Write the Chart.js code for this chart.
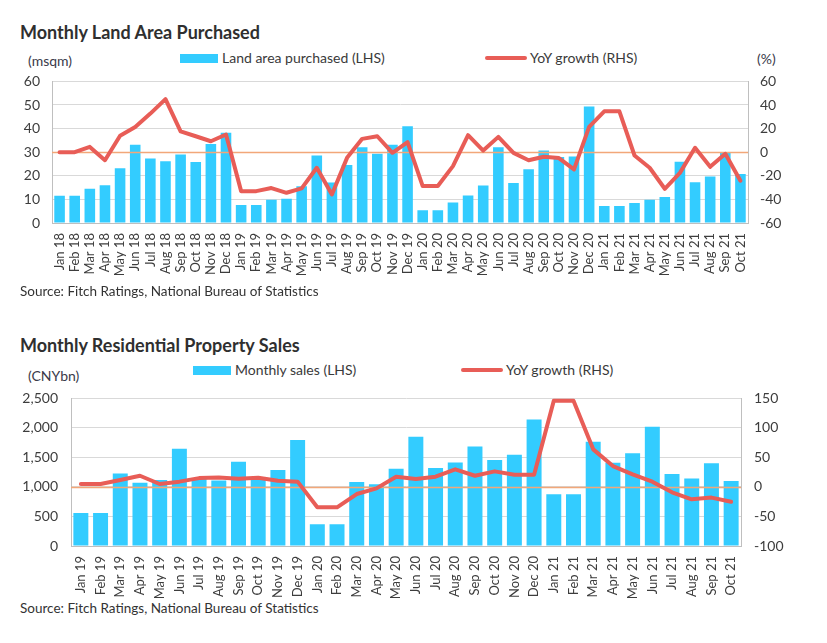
<!DOCTYPE html>
<html>
<head>
<meta charset="utf-8">
<script src="https://cdn.jsdelivr.net/npm/chart.js@4.4.1/dist/chart.umd.min.js"></script>
<style>
  html, body { margin: 0; padding: 0; background: #ffffff; }
  body { width: 827px; height: 643px; position: relative; overflow: hidden; font-family: Lato, "Open Sans", sans-serif; color: #333333; }
  .abs { position: absolute; white-space: nowrap; line-height: 1; }
  .title { font-weight: bold; font-size: 18px; color: #2f2f2f; }
  .src { font-size: 13.5px; color: #333333; }
  .unit { font-size: 14px; color: #3a3a4a; }
  .leg { font-size: 14px; color: #3a3a3a; display: flex; align-items: center; }
  .box { display: inline-block; width: 38px; height: 9px; background: #33CCFF; margin-right: 4px; }
  .ln { display: inline-block; width: 42px; height: 4px; background: #E85D57; border-radius: 2px; margin-right: 3px; }
  canvas { position: absolute; left: 0; }
</style>
</head>
<body>
<div class="abs title" style="left:20px; top:23px;">Monthly Land Area Purchased</div>
<div class="abs unit" style="left:28px; top:54px;">(msqm)</div>
<div class="abs unit" style="left:757px; top:52px;">(%)</div>
<div class="abs leg" style="left:180px; top:51px;"><span class="box"></span>Land area purchased (LHS)</div>
<div class="abs leg" style="left:485px; top:51px;"><span class="ln"></span>YoY growth (RHS)</div>
<canvas id="c1" width="827" height="224" style="top:61px;"></canvas>
<div class="abs src" style="left:20px; top:285px;">Source: Fitch Ratings, National Bureau of Statistics</div>

<div class="abs title" style="left:20px; top:336px;">Monthly Residential Property Sales</div>
<div class="abs unit" style="left:28px; top:369px;">(CNYbn)</div>
<div class="abs leg" style="left:193px; top:363px;"><span class="box"></span>Monthly sales (LHS)</div>
<div class="abs leg" style="left:461px; top:363px;"><span class="ln"></span>YoY growth (RHS)</div>
<canvas id="c2" width="827" height="223" style="top:377px;"></canvas>
<div class="abs src" style="left:20px; top:602px;">Source: Fitch Ratings, National Bureau of Statistics</div>

<script>
// ---------- Data: chart 1 (land area purchased) ----------
const landMonths = [
  "Jan 18","Feb 18","Mar 18","Apr 18","May 18","Jun 18","Jul 18","Aug 18","Sep 18","Oct 18","Nov 18","Dec 18",
  "Jan 19","Feb 19","Mar 19","Apr 19","May 19","Jun 19","Jul 19","Aug 19","Sep 19","Oct 19","Nov 19","Dec 19",
  "Jan 20","Feb 20","Mar 20","Apr 20","May 20","Jun 20","Jul 20","Aug 20","Sep 20","Oct 20","Nov 20","Dec 20",
  "Jan 21","Feb 21","Mar 21","Apr 21","May 21","Jun 21","Jul 21","Aug 21","Sep 21","Oct 21"
];
const landArea = [
  11.5, 11.5, 14.5, 16.0, 23.2, 33.2, 27.3, 26.2, 29.0, 25.8, 33.5, 38.2,
  7.6, 7.6, 9.9, 10.3, 15.6, 28.6, 17.2, 24.6, 32.1, 29.3, 33.2, 41.0,
  5.4, 5.4, 8.7, 11.7, 15.9, 32.1, 16.9, 22.8, 30.7, 28.0, 28.2, 49.4,
  7.2, 7.2, 8.5, 9.9, 11.0, 26.0, 17.3, 19.7, 29.9, 20.8
];
const landYoY = [
  0, 0, 4.5, -6.8, 14.0, 21.4, 32.7, 45.0, 17.7, 13.5, 9.3, 15.0,
  -33.0, -33.0, -30.4, -34.4, -30.7, -13.2, -35.8, -4.8, 11.3, 13.5, -0.5, 8.5,
  -28.7, -28.7, -11.8, 14.4, 1.4, 13.0, -0.6, -6.8, -3.9, -5.0, -14.6, 21.4,
  34.6, 34.6, -2.8, -13.2, -31.0, -17.5, 3.7, -12.4, -1.4, -24.2
];
const landLeftTicks = { min: 0, max: 60, step: 10 };
const landRightTicks = { min: -60, max: 60, step: 20 };

// ---------- Data: chart 2 (residential property sales) ----------
const salesMonths = [
  "Jan 19","Feb 19","Mar 19","Apr 19","May 19","Jun 19","Jul 19","Aug 19","Sep 19","Oct 19","Nov 19","Dec 19",
  "Jan 20","Feb 20","Mar 20","Apr 20","May 20","Jun 20","Jul 20","Aug 20","Sep 20","Oct 20","Nov 20","Dec 20",
  "Jan 21","Feb 21","Mar 21","Apr 21","May 21","Jun 21","Jul 21","Aug 21","Sep 21","Oct 21"
];
const monthlySales = [
  559, 559, 1230, 1072, 1117, 1648, 1150, 1110, 1428, 1150, 1287, 1795,
  367, 367, 1084, 1044, 1309, 1851, 1320, 1416, 1687, 1456, 1546, 2144,
  875, 875, 1766, 1411, 1569, 2020, 1219, 1145, 1400, 1100
];
const salesYoY = [
  5, 5, 11.7, 19, 5, 9, 15, 16, 14, 15.7, 10.6, 9,
  -34.5, -34.5, -12, -2.4, 17.4, 13.4, 17.4, 29.8, 19, 26.4, 20.8, 20.8,
  146, 146, 63.7, 35.4, 21.3, 8.9, -9.1, -21, -18, -25
];
const salesLeftTicks = { min: 0, max: 2500, step: 500 };
const salesRightTicks = { min: -100, max: 150, step: 50 };

// ---------- Styles ----------
const BAR_COLOR = '#33CCFF';
const LINE_COLOR = '#E85D57';
const ZERO_COLOR = '#F2A779';
const GRID_COLOR = '#D9D9D9';
const AXIS_COLOR = '#BFBFBF';
const TICK_COLOR = '#3d3d3d';

const zeroLinePlugin = {
  id: 'zeroLine',
  beforeDatasetDraw(chart, args) {
    if (chart.data.datasets[args.index].type !== 'line') return;
    const y1 = chart.scales.y1;
    const area = chart.chartArea;
    const y = Math.round(y1.getPixelForValue(0)) + 0.5;
    const ctx = chart.ctx;
    ctx.save();
    ctx.strokeStyle = ZERO_COLOR;
    ctx.lineWidth = 1.5;
    ctx.beginPath();
    ctx.moveTo(area.left, y);
    ctx.lineTo(area.right, y);
    ctx.stroke();
    ctx.restore();
  }
};

function makeChart(id, cfg) {
  const fmt = v => v.toLocaleString('en-US');
  return new Chart(document.getElementById(id), {
    data: {
      labels: cfg.labels,
      datasets: [
        {
          type: 'bar', label: cfg.barLabel, data: cfg.bars, yAxisID: 'y', order: 2,
          backgroundColor: BAR_COLOR, borderWidth: 0,
          barPercentage: cfg.barPct, categoryPercentage: 1.0
        },
        {
          type: 'line', label: 'YoY growth (RHS)', data: cfg.line, yAxisID: 'y1', order: 1,
          borderColor: LINE_COLOR, backgroundColor: LINE_COLOR, borderWidth: 4,
          pointRadius: 0, tension: 0, borderJoinStyle: 'round', borderCapStyle: 'round', clip: false
        }
      ]
    },
    options: {
      responsive: false,
      animation: false,
      devicePixelRatio: 1,
      layout: { padding: { top: 0, left: 0, right: 0, bottom: 0 } },
      plugins: { legend: { display: false }, tooltip: { enabled: false } },
      scales: {
        x: {
          offset: true,
          grid: { display: false, drawTicks: false },
          border: { display: true, color: AXIS_COLOR, width: 1 },
          ticks: { autoSkip: false, maxRotation: 90, minRotation: 90, padding: 10, color: TICK_COLOR,
                   font: { family: 'Lato', size: 13 } },
          afterFit: s => { s.height = cfg.xHeight; }
        },
        y: {
          position: 'left', min: cfg.left.min, max: cfg.left.max,
          grid: { color: GRID_COLOR, drawTicks: false },
          border: { display: true, color: AXIS_COLOR },
          ticks: { stepSize: cfg.left.step, padding: cfg.tickPad, color: TICK_COLOR,
                   font: { family: 'Lato', size: 14 }, callback: fmt },
          afterFit: s => { s.width = cfg.leftW; }
        },
        y1: {
          position: 'right', min: cfg.right.min, max: cfg.right.max,
          grid: { display: false, drawTicks: false },
          border: { display: true, color: AXIS_COLOR },
          ticks: { stepSize: cfg.right.step, padding: cfg.tickPad, color: TICK_COLOR,
                   font: { family: 'Lato', size: 14 }, callback: fmt },
          afterFit: s => { s.width = cfg.rightW; }
        }
      }
    },
    plugins: [zeroLinePlugin]
  });
}

makeChart('c1', {
  labels: landMonths, bars: landArea, line: landYoY, barLabel: 'Land area purchased (LHS)',
  left: landLeftTicks, right: landRightTicks, barPct: 0.7,
  xHeight: 62, leftW: 52, rightW: 79, tickPad: 12
});

makeChart('c2', {
  labels: salesMonths, bars: monthlySales, line: salesYoY, barLabel: 'Monthly sales (LHS)',
  left: salesLeftTicks, right: salesRightTicks, barPct: 0.76,
  xHeight: 54, leftW: 71, rightW: 86, tickPad: 13
});
</script>
</body>
</html>
